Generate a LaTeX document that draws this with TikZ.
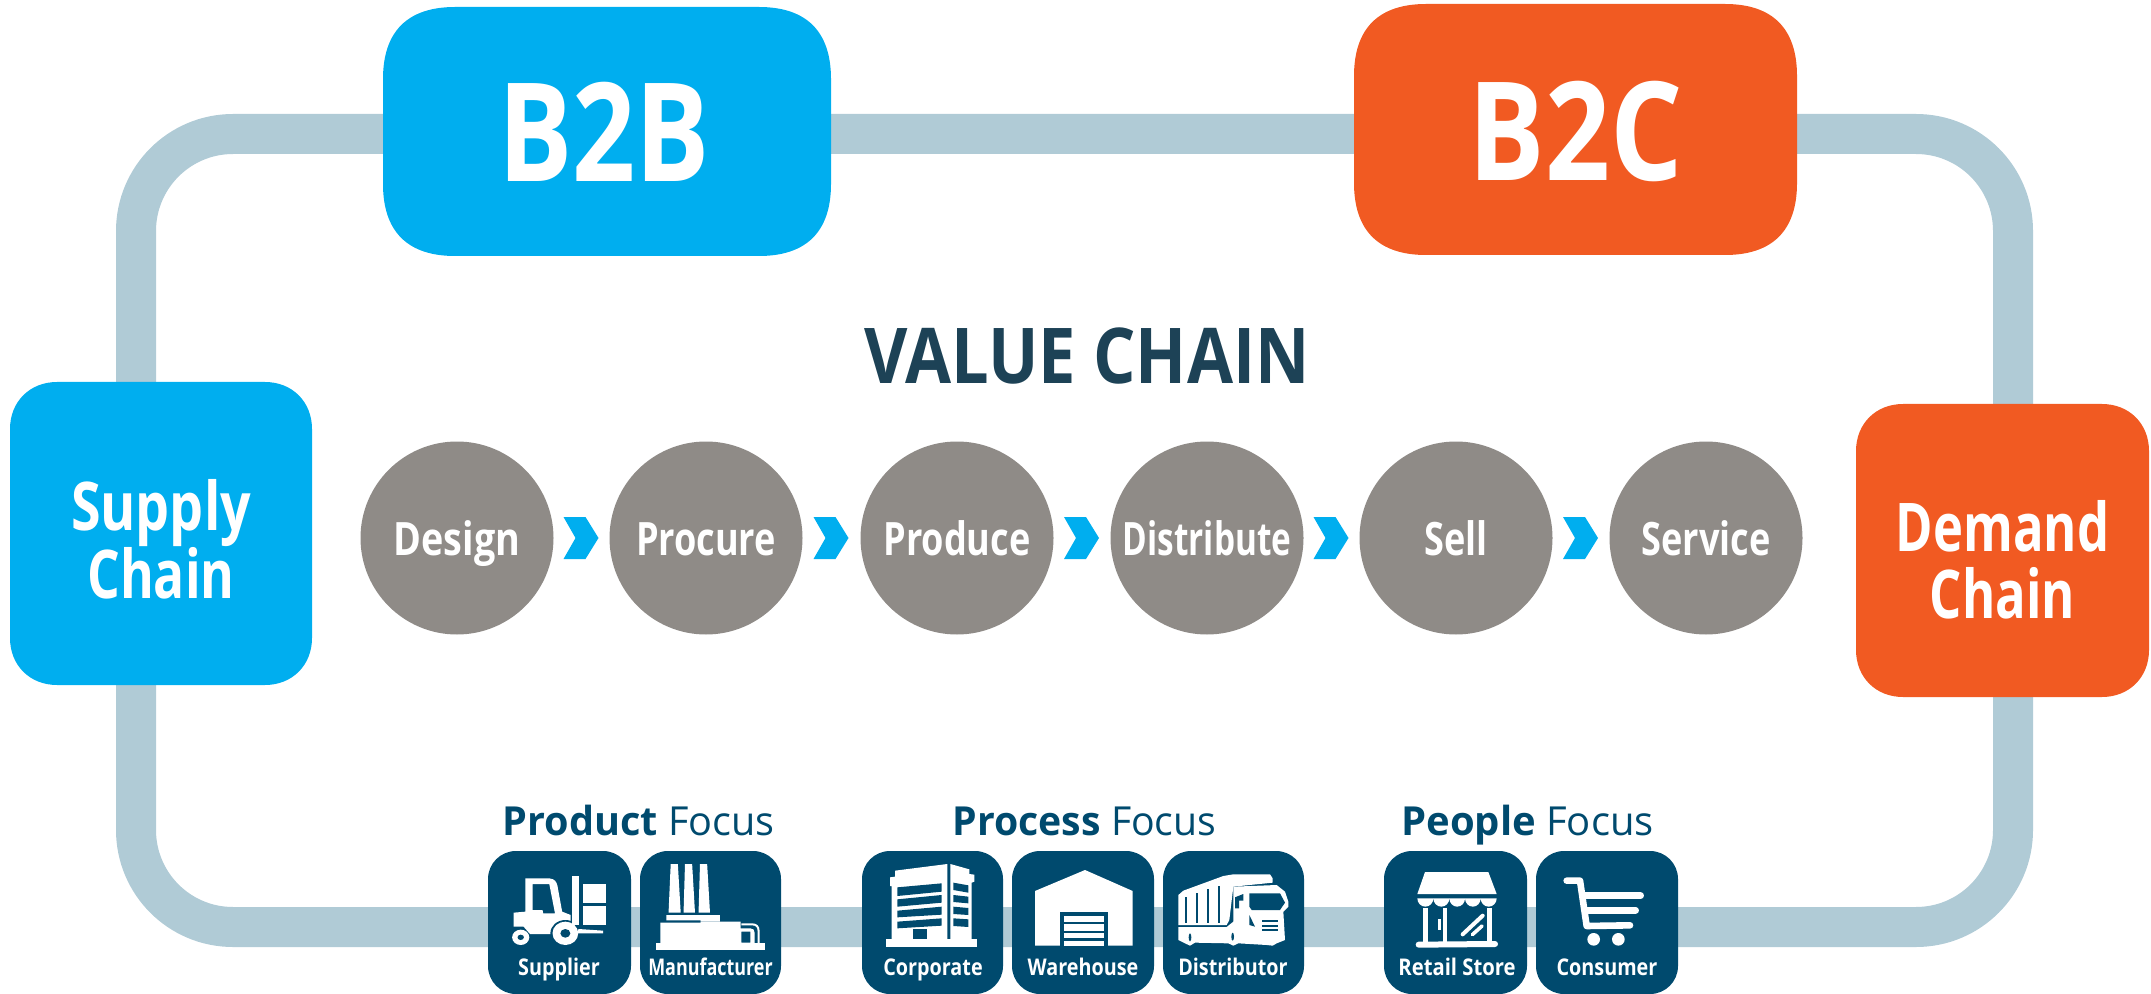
\documentclass[tikz,border=0pt]{standalone}
\usepackage{fontspec}
\usepackage{graphicx}
\setmainfont{Open Sans}
\usetikzlibrary{calc}
\definecolor{cblue}{HTML}{00AEEF}
\definecolor{corange}{HTML}{F15A22}
\definecolor{crail}{HTML}{B0CBD6}
\definecolor{cgrey}{HTML}{8F8B87}
\definecolor{cnavy}{HTML}{004A6E}
\definecolor{ctitle}{HTML}{1D4256}
\newcommand{\xs}[2]{\scalebox{#1}[1]{#2}}
% x1 y1 x2 y2 r tension colour
\newcommand{\squircle}[7]{%
  \pgfmathsetmacro{\qa}{#5*(1-#6)}%
  \fill[#7] (#1,#2+#5) .. controls (#1,#2+\qa) and (#1+\qa,#2) .. (#1+#5,#2)
    -- (#3-#5,#2) .. controls (#3-\qa,#2) and (#3,#2+\qa) .. (#3,#2+#5)
    -- (#3,#4-#5) .. controls (#3,#4-\qa) and (#3-\qa,#4) .. (#3-#5,#4)
    -- (#1+#5,#4) .. controls (#1+\qa,#4) and (#1,#4-\qa) .. (#1,#4-#5) -- cycle;}
\tikzset{
  x=0.5pt,y=-0.5pt,
  railline/.style={draw=crail,line width=20pt,rounded corners=48.5pt},
  bigbox/.style={rectangle,inner sep=0pt,text=white,text depth=0pt,font=\bfseries\fontsize{68.6}{68}\selectfont},
  sidebox/.style={rectangle,inner sep=0pt,text=white,align=center,font=\bfseries\fontsize{33.6}{34}\selectfont},
  stage/.style={circle,fill=cgrey,inner sep=0pt,minimum size=96.5pt,text=white,text height=19pt,text depth=2pt,font=\bfseries\fontsize{23}{24}\selectfont},
  iconbox/.style={rectangle,fill=cnavy,inner sep=0pt,rounded corners=14pt,minimum height=71.5pt},
  iconlabel/.style={anchor=base,inner sep=0pt,text=white,font=\bfseries\fontsize{11.5}{12}\selectfont},
  focuslabel/.style={anchor=base,inner sep=0pt,text=cnavy,font=\fontsize{20}{22}\selectfont},
  titlelabel/.style={anchor=base,inner sep=0pt,text=ctitle,font=\bfseries\fontsize{38.5}{40}\selectfont},
  chev/.pic={\fill[cblue] (-18,-21)--(4,-21)--(17,0)--(4,21)--(-18,21)--(-6,0)--cycle;},
  wf/.style={fill=white,draw=none},
  df/.style={fill=cnavy,draw=none},
  ws/.style={draw=white,line cap=round,line join=round},
}
\begin{document}
\begin{tikzpicture}
\useasboundingbox (0,0) rectangle (2151,994);
\coordinate (railnw) at (136,134);
\coordinate (railse) at (2013,927);
\draw[railline] (railnw) rectangle (railse);

\squircle{383}{7}{831}{256}{72}{0.66}{cblue}
\squircle{1354}{4}{1797}{255}{72}{0.66}{corange}
\squircle{10}{382}{312}{685}{47}{0.58}{cblue}
\squircle{1856}{404}{2149}{697}{47}{0.58}{corange}

\node[bigbox,text height=50pt,minimum width=224pt,minimum height=124.5pt] (b2b) at (604,131.5) {\xs{.806}{B2B}};
\node[bigbox,text height=51.5pt,minimum width=221.5pt,minimum height=125.5pt] (b2c) at (1575.5,129.5) {\xs{.83}{B2C}};
\node[sidebox,minimum width=151pt,minimum height=151.5pt] (supply) at (161,539) {\xs{.80}{Supply}\\\xs{.766}{Chain}};
\node[sidebox,minimum width=146.5pt,minimum height=146.5pt] (demand) at (2002.5,559.5) {\xs{.755}{Demand}\\[-0.5pt]\xs{.755}{Chain}};

\node[titlelabel] (title) at (1087,384) {\xs{.867}{VALUE CHAIN}};

\node[stage] (s1) at (457,538) {\xs{.82}{Design}};
\node[stage] (s2) at (706,538) {\xs{.785}{Procure}};
\node[stage] (s3) at (957,538) {\xs{.785}{Produce}};
\node[stage] (s4) at (1207,538) {\xs{.725}{Distribute}};
\node[stage] (s5) at (1456,538) {\xs{.785}{Sell}};
\node[stage] (s6) at (1706,538) {\xs{.785}{Service}};
\foreach \a/\b in {s1/s2,s2/s3,s3/s4,s4/s5,s5/s6}
  \pic at ($(\a)!0.5!(\b)$) {chev};

\node[focuslabel] (f1) at (638.5,835) {\xs{.99}{\textbf{Product} Focus}};
\node[focuslabel] (f2) at (1084.5,835) {\xs{.98}{\textbf{Process} Focus}};
\node[focuslabel] (f3) at (1527.5,835) {\xs{1.0}{\textbf{People} Focus}};

\node[iconbox,minimum width=71.5pt] (b1) at (559.5,922.5) {};
\node[iconbox,minimum width=70.5pt] (b2) at (710.5,922.5) {};
\node[iconbox,minimum width=70.5pt] (b3) at (932.5,922.5) {};
\node[iconbox,minimum width=71pt] (b4) at (1083,922.5) {};
\node[iconbox,minimum width=70.5pt] (b5) at (1233.5,922.5) {};
\node[iconbox,minimum width=71.5pt] (b6) at (1455.5,922.5) {};
\node[iconbox,minimum width=71pt] (b7) at (1607,922.5) {};

\node[iconlabel] (l1) at (559,975) {\xs{.86}{Supplier}};
\node[iconlabel] (l2) at (710.5,975) {\xs{.78}{Manufacturer}};
\node[iconlabel] (l3) at (933,975) {\xs{.86}{Corporate}};
\node[iconlabel] (l4) at (1083,975) {\xs{.86}{Warehouse}};
\node[iconlabel] (l5) at (1233,975) {\xs{.86}{Distributor}};
\node[iconlabel] (l6) at (1457,975) {\xs{.88}{Retail Store}};
\node[iconlabel] (l7) at (1607,975) {\xs{.86}{Consumer}};

% forklift and factory: zoom-1 coordinates
\begin{scope}[shift={(470,780)},xscale=1/2.8,yscale=1/3]
  \fill[wf,even odd rule] (122,398)--(155,395)--(155,295)--(222,295)..controls (238,297) and (242,305) .. (245,318)--(258,395)--(282,405)--(282,430)--(240,432)--(228,462)--(168,462)--(150,440)--(122,440)--cycle
    (175,312)--(222,312)--(238,400)--(205,400)--(203,390)--(175,390)--cycle;
  \fill[wf] (142,472) ellipse [x radius=24,y radius=23];
  \fill[df] (142,472) ellipse [x radius=9,y radius=8];
  \fill[df] (267,460) ellipse [x radius=42,y radius=40];
  \fill[wf] (267,460) ellipse [x radius=36,y radius=35];
  \fill[df] (267,460) ellipse [x radius=14,y radius=13];
  \fill[wf] (286,288) rectangle (304,435);
  \fill[wf] (304,447)--(373,452)--(373,460)--(300,460)--cycle;
  \fill[wf] (316,312) rectangle (381,368);
  \fill[wf] (316,378) rectangle (381,435);
  % factory
  \fill[wf] (562,252)--(582,252)--(590,398)--(556,398)--cycle;
  \fill[wf] (602,252)--(622,252)--(630,398)--(598,398)--cycle;
  \fill[wf] (644,252)--(664,252)--(672,398)--(640,398)--cycle;
  \fill[wf] (550,405)--(700,405)--(700,425)--(646,425)--(646,421)--(550,421)--cycle;
  \fill[wf,even odd rule] (533,428)--(646,428)--(646,425)--(758,425)--(758,445)--(785,445)..controls (793,445) and (797,450) .. (797,458)--(797,490)--(533,490)--cycle
    (760,455) rectangle (785,488);
  \draw[draw=white,line width=1pt] (760,433)--(790,433)..controls (802,433) and (808,440) .. (808,452)--(808,490);
  \fill[wf] (520,490)--(826,490)--(826,510)--(520,510)--cycle;
\end{scope}

% corporate, warehouse, truck: zoom-2 coordinates
\begin{scope}[shift={(840,780)},xscale=1/3,yscale=1/3]
  \fill[wf] (138,478) rectangle (411,500);
  \fill[wf] (150,292)--(165,290)--(165,272)--(322,252)--(322,478)--(155,478)--(155,318)--(150,318)--cycle;
  \fill[wf] (331,252)--(388,268)--(388,282)--(403,284)--(403,305)--(395,308)--(395,478)--(331,478)--cycle;
  \fill[df] (172,322)--(305,310)--(305,335)--(172,348)--cycle;
  \fill[df] (172,358)--(305,345)--(305,368)--(172,380)--cycle;
  \fill[df] (172,392)--(305,380)--(305,404)--(172,412)--cycle;
  \fill[df] (172,425)--(305,415)--(305,437)--(172,445)--cycle;
  \fill[df] (340,308)--(385,316)--(385,338)--(340,330)--cycle;
  \fill[df] (340,345)--(385,350)--(385,370)--(340,366)--cycle;
  \fill[df] (340,380)--(385,384)--(385,405)--(340,402)--cycle;
  \fill[df] (340,415)--(385,418)--(385,441)--(340,438)--cycle;
  \fill[df] (220,448) rectangle (260,478);
  % warehouse
  \fill[wf] (585,333)--(735,270)--(878,333)--(878,497)--(585,497)--cycle;
  \fill[df] (660,397) rectangle (805,497);
  \fill[wf] (672,408) rectangle (793,425);
  \fill[wf] (672,433) rectangle (793,452);
  \fill[wf] (672,458) rectangle (793,475);
  \fill[wf] (672,482) rectangle (793,497);
  % truck
  \fill[wf] (1015,345)--(1030,332)--(1150,288)--(1180,283)--(1290,283)--(1298,295)--(1298,308)--(1180,320)--(1168,420)--(1160,435)--(1015,435)--cycle;
  \fill[wf] (1015,441)--(1160,441)--(1180,425)--(1180,320)--(1310,315)--(1335,335)--(1345,365)--(1345,380)--(1330,395)--(1335,480)--(1310,490)--(1298,497)--(1280,495)--(1195,490)--(1180,497)--(1165,490)--(1065,488)--(1050,497)--(1035,490)--(1015,480)--cycle;
  \fill[df] (1228,340)--(1320,340)--(1335,368)--(1320,390)--(1235,390)--(1228,380)--cycle;
  \fill[df] (1185,352)--(1210,342)--(1210,362)--(1197,362)--(1197,385)--(1185,385)--cycle;
  \fill[df] (1228,405)--(1245,440)--(1228,435)--cycle;
  \fill[df] (1266,420) rectangle (1315,426);
  \fill[df] (1266,434) rectangle (1315,440);
  \fill[df] (1266,448) rectangle (1315,454);
  \fill[df] (1035,350) rectangle (1040,430);
  \fill[df] (1068,340) rectangle (1073,430);
  \fill[df] (1102,328) rectangle (1107,430);
  \fill[df] (1135,318) rectangle (1140,430);
  \fill[df] (1050,472) ellipse [x radius=4,y radius=12];
  \fill[df] (1178,470) ellipse [x radius=4,y radius=12];
\end{scope}

% store, cart: zoom-3 coordinates
\begin{scope}[shift={(1360,780)},xscale=1/3,yscale=1/3]
  \fill[wf] (195,276)--(385,276)--(410,342)--(172,342)--cycle;
  \fill[wf] (172,355)--(410,355)
     arc[start angle=0,end angle=180,x radius=24,y radius=25]
     arc[start angle=0,end angle=180,x radius=23.5,y radius=25]
     arc[start angle=0,end angle=180,x radius=23.5,y radius=25]
     arc[start angle=0,end angle=180,x radius=24,y radius=25]
     arc[start angle=0,end angle=180,x radius=24,y radius=25]--cycle;
  \fill[wf] (188,385) rectangle (203,488);
  \fill[wf] (250,385) rectangle (262,488);
  \fill[wf] (380,385) rectangle (395,488);
  \fill[wf] (233,418) rectangle (243,450);
  \draw[ws,line width=2pt] (308,463)--(368,407);
  \draw[ws,line width=1.8pt] (337,464)--(366,438);
  \draw[ws,line width=3pt] (176,494)--(405,492);
  % cart
  \draw[ws,line width=3.3pt] (620,302)--(660,302)--(680,438)--(810,436);
  \draw[ws,line width=3.3pt] (668,347)--(842,347);
  \draw[ws,line width=3.3pt] (675,391)--(827,391);
  \fill[wf] (701,478) circle [radius=19];
  \fill[wf] (775,478) circle [radius=19];
\end{scope}
\end{tikzpicture}
\end{document}
